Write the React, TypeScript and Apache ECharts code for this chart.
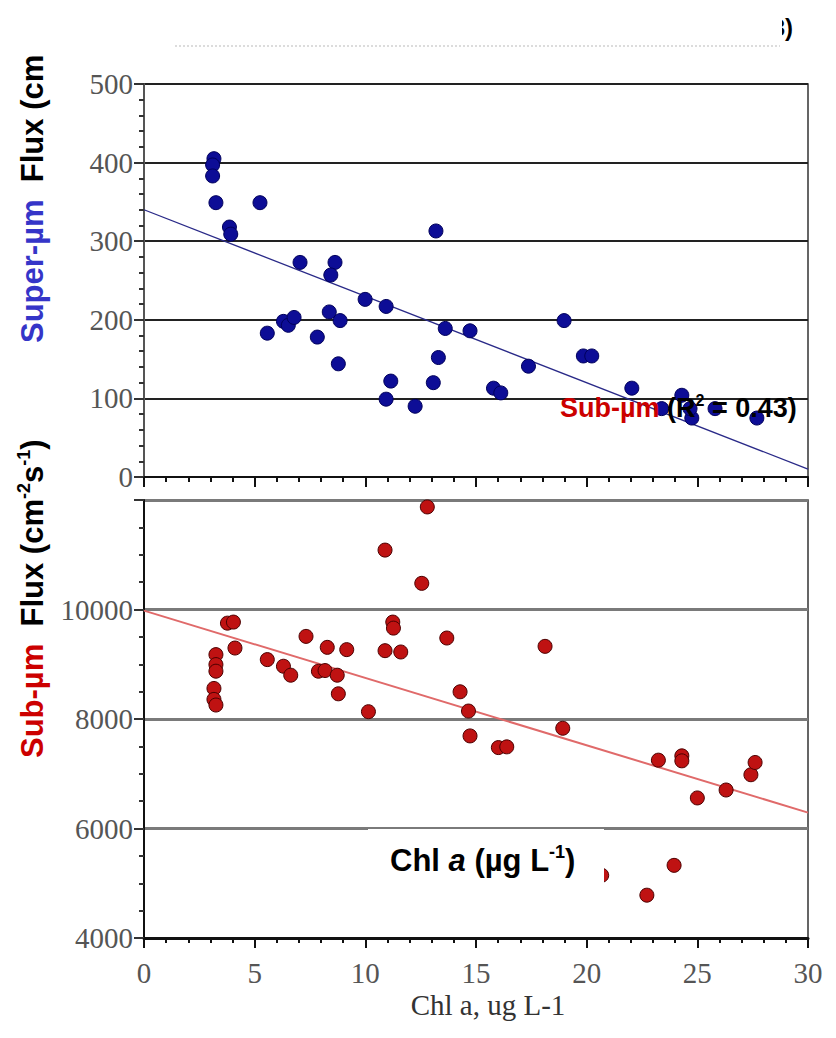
import React, { useEffect, useRef } from "react";
import * as echarts from "echarts";

// Super-µm flux (top panel)
const superChl = [3.16, 3.1, 3.1, 3.25, 5.24, 3.86, 3.92, 13.19, 7.05, 8.63, 8.44, 9.99, 10.94, 8.37, 6.3, 6.52, 6.78, 8.86, 5.57, 7.83, 8.78, 11.15, 10.94, 12.25, 13.07, 13.3, 13.61, 14.73, 17.37, 15.79, 16.12, 18.98, 19.85, 20.23, 22.04, 23.39, 24.3, 24.75, 24.67, 25.8, 27.69];
const superFlux = [405, 397, 383, 349, 349, 318, 309, 313, 273, 273, 257, 226, 217, 210, 198, 193, 203, 199, 183, 178, 144, 122, 99, 90, 120, 152, 189, 186, 141, 113, 107, 199, 154, 154, 113, 87, 104, 75, 87, 87, 75];

// Sub-µm flux (bottom panel)
const subChl = [12.8, 10.89, 12.55, 3.77, 4.04, 4.11, 3.25, 3.25, 3.25, 3.16, 3.16, 3.25, 5.57, 6.3, 6.63, 7.32, 7.88, 8.18, 8.28, 8.73, 8.78, 9.16, 10.14, 11.24, 11.27, 10.89, 11.6, 13.68, 14.28, 14.66, 14.73, 18.12, 18.92, 16.01, 16.39, 23.24, 24.3, 24.3, 25.0, 26.3, 27.42, 27.61, 23.95, 22.72, 20.68];
const subFlux = [11873, 11085, 10478, 9751, 9770, 9296, 9176, 8994, 8873, 8558, 8358, 8255, 9085, 8964, 8800, 9509, 8873, 8885, 9309, 8800, 8460, 9267, 8133, 9770, 9660, 9248, 9224, 9479, 8497, 8145, 7691, 9327, 7831, 7478, 7491, 7248, 7327, 7236, 6558, 6703, 6982, 7206, 5327, 4782, 5145];

// Regression lines (end points)
const superFitX = [0, 30];
const superFitY = [340, 10];
const subFitX = [0, 30];
const subFitY = [9980, 6290];

const SANS = "'Liberation Sans', Arial, sans-serif";
const SERIF = "'Liberation Serif', 'Times New Roman', serif";

export default function App() {
  const ref = useRef<HTMLDivElement>(null);
  useEffect(() => {
    if (!ref.current) return;
    const chart = echarts.init(ref.current, undefined, { renderer: "svg" });
    const pair = (xs: number[], ys: number[]) => xs.map((x, i) => [x, ys[i]]);
    const tickLabel = { fontFamily: SERIF, fontSize: 29, color: "#555" };
    const bold = (fill: string, size: number) => ({ fill, color: fill, fontSize: size, fontWeight: "bold", fontFamily: SANS, lineHeight: size + 4 });
    const sup = (size: number) => ({ fill: "#000", color: "#000", fontSize: size, fontWeight: "bold", fontFamily: SANS, lineHeight: size, verticalAlign: "top" });

    chart.setOption({
      animation: false,
      backgroundColor: "#fff",
      grid: [
        { left: 144, right: 28, top: 84, height: 393, show: true, borderColor: "#333", borderWidth: 1.5, backgroundColor: "transparent" },
        { left: 144, right: 28, top: 500, height: 438, show: true, borderColor: "#333", borderWidth: 1.5, backgroundColor: "transparent" },
      ],
      xAxis: [
        {
          gridIndex: 0, type: "value", min: 0, max: 30, interval: 5,
          axisLine: { show: true, onZero: false, lineStyle: { color: "#111", width: 2 } },
          axisTick: { show: true, length: 10, lineStyle: { color: "#111", width: 2 } },
          minorTick: { show: true, splitNumber: 5, length: 5, lineStyle: { color: "#111", width: 2 } },
          axisLabel: { show: false },
          splitLine: { show: false },
        },
        {
          gridIndex: 1, type: "value", min: 0, max: 30, interval: 5,
          axisLine: { show: true, onZero: false, lineStyle: { color: "#111", width: 3 } },
          axisTick: { show: true, length: 10, lineStyle: { color: "#111", width: 2 } },
          minorTick: { show: true, splitNumber: 5, length: 5, lineStyle: { color: "#111", width: 2 } },
          axisLabel: { ...tickLabel, margin: 20 },
          splitLine: { show: false },
        },
      ],
      yAxis: [
        {
          gridIndex: 0, type: "value", min: 0, max: 500, interval: 100,
          axisLine: { show: true, onZero: false, lineStyle: { color: "#555", width: 2 } },
          axisTick: { show: true, length: 10, lineStyle: { color: "#333", width: 2 } },
          minorTick: { show: true, splitNumber: 5, length: 5, lineStyle: { color: "#333", width: 2 } },
          axisLabel: { ...tickLabel, margin: 11 },
          splitLine: { show: true, lineStyle: { color: "#222", width: 2 } },
        },
        {
          gridIndex: 1, type: "value", min: 4000, max: 12000, interval: 2000,
          axisLine: { show: true, onZero: false, lineStyle: { color: "#111", width: 2 } },
          axisTick: { show: true, length: 10, lineStyle: { color: "#333", width: 2 } },
          minorTick: { show: true, splitNumber: 4, length: 5, lineStyle: { color: "#333", width: 2 } },
          axisLabel: { ...tickLabel, margin: 11, formatter: (v: number) => (v === 12000 ? "" : String(v)) },
          splitLine: { show: true, lineStyle: { color: "#7a7a7a", width: 3 } },
        },
      ],
      series: [
        {
          type: "line", xAxisIndex: 0, yAxisIndex: 0, data: pair(superFitX, superFitY),
          showSymbol: false, symbol: "none", z: 1,
          lineStyle: { color: "#2a2a88", width: 1.3 },
        },
        {
          type: "scatter", xAxisIndex: 0, yAxisIndex: 0, data: pair(superChl, superFlux),
          symbol: "circle", symbolSize: 14, z: 3,
          itemStyle: { color: "#0d0d96", borderColor: "#00005a", borderWidth: 1, opacity: 1 },
        },
        {
          type: "line", xAxisIndex: 1, yAxisIndex: 1, data: pair(subFitX, subFitY),
          showSymbol: false, symbol: "none", z: 1,
          lineStyle: { color: "#e06a6a", width: 2 },
        },
        {
          type: "scatter", xAxisIndex: 1, yAxisIndex: 1, data: pair(subChl, subFlux),
          symbol: "circle", symbolSize: 14, z: 3,
          itemStyle: { color: "#bf1212", borderColor: "#4a0000", borderWidth: 1, opacity: 1 },
        },
      ],
      graphic: [
        // faint remnant line at the top
        { type: "line", z: 50, shape: { x1: 175, y1: 46, x2: 780, y2: 46 }, style: { stroke: "#dcdcdc", lineWidth: 2, lineDash: [2, 2] } },
        // partial "3)" at top right
        { type: "text", z: 50, x: 793, y: 27, style: { text: "3)", fill: "#000", fontSize: 24, fontWeight: "bold", fontFamily: SANS, align: "right", verticalAlign: "middle" } },
        { type: "rect", z: 51, shape: { x: 755, y: 0, width: 27, height: 45 }, style: { fill: "#fff" } },
        // left vertical label, top panel
        {
          type: "text", z: 60, x: 32, y: 343, rotation: Math.PI / 2,
          style: {
            text: "{b|Super-µm}{k|  Flux (cm}",
            align: "left", verticalAlign: "middle",
            rich: { b: bold("#3535c8", 31), k: bold("#000", 31) },
          },
        },
        // left vertical label, bottom panel
        {
          type: "text", z: 60, x: 32, y: 758, rotation: Math.PI / 2,
          style: {
            text: "{r|Sub-µm}{k|  Flux (cm}{s|-2}{k|s}{s|-1}{k|)}",
            align: "left", verticalAlign: "middle",
            rich: { r: bold("#cc0000", 31), k: bold("#000", 31), s: sup(18) },
          },
        },
        // R² annotation
        {
          type: "text", z: 60, x: 560, y: 408,
          style: {
            text: "{r|Sub-µm }{k|(R}{s|2}{k| = 0.43)}",
            align: "left", verticalAlign: "middle",
            rich: { r: bold("#cc0000", 27), k: bold("#000", 27), s: sup(16) },
          },
        },
        // white box with Chl a label
        { type: "rect", z: 55, shape: { x: 368, y: 829, width: 236, height: 57 }, style: { fill: "#fff" } },
        {
          type: "text", z: 60, x: 390, y: 860,
          style: {
            text: "{b|Chl }{i|a}{b| (µg L}{s|-1}{b|)}",
            align: "left", verticalAlign: "middle",
            rich: {
              b: bold("#000", 31),
              i: { ...bold("#000", 31), fontStyle: "italic" },
              s: sup(18),
            },
          },
        },
        // x-axis title
        { type: "text", z: 60, x: 488, y: 1005, style: { text: "Chl a, ug L-1", fill: "#333", fontSize: 29, fontFamily: SERIF, align: "center", verticalAlign: "middle" } },
      ],
    });
    return () => chart.dispose();
  }, []);
  return <div ref={ref} style={{ position: "fixed", left: 0, top: 0, width: 836, height: 1038 }} />;
}
